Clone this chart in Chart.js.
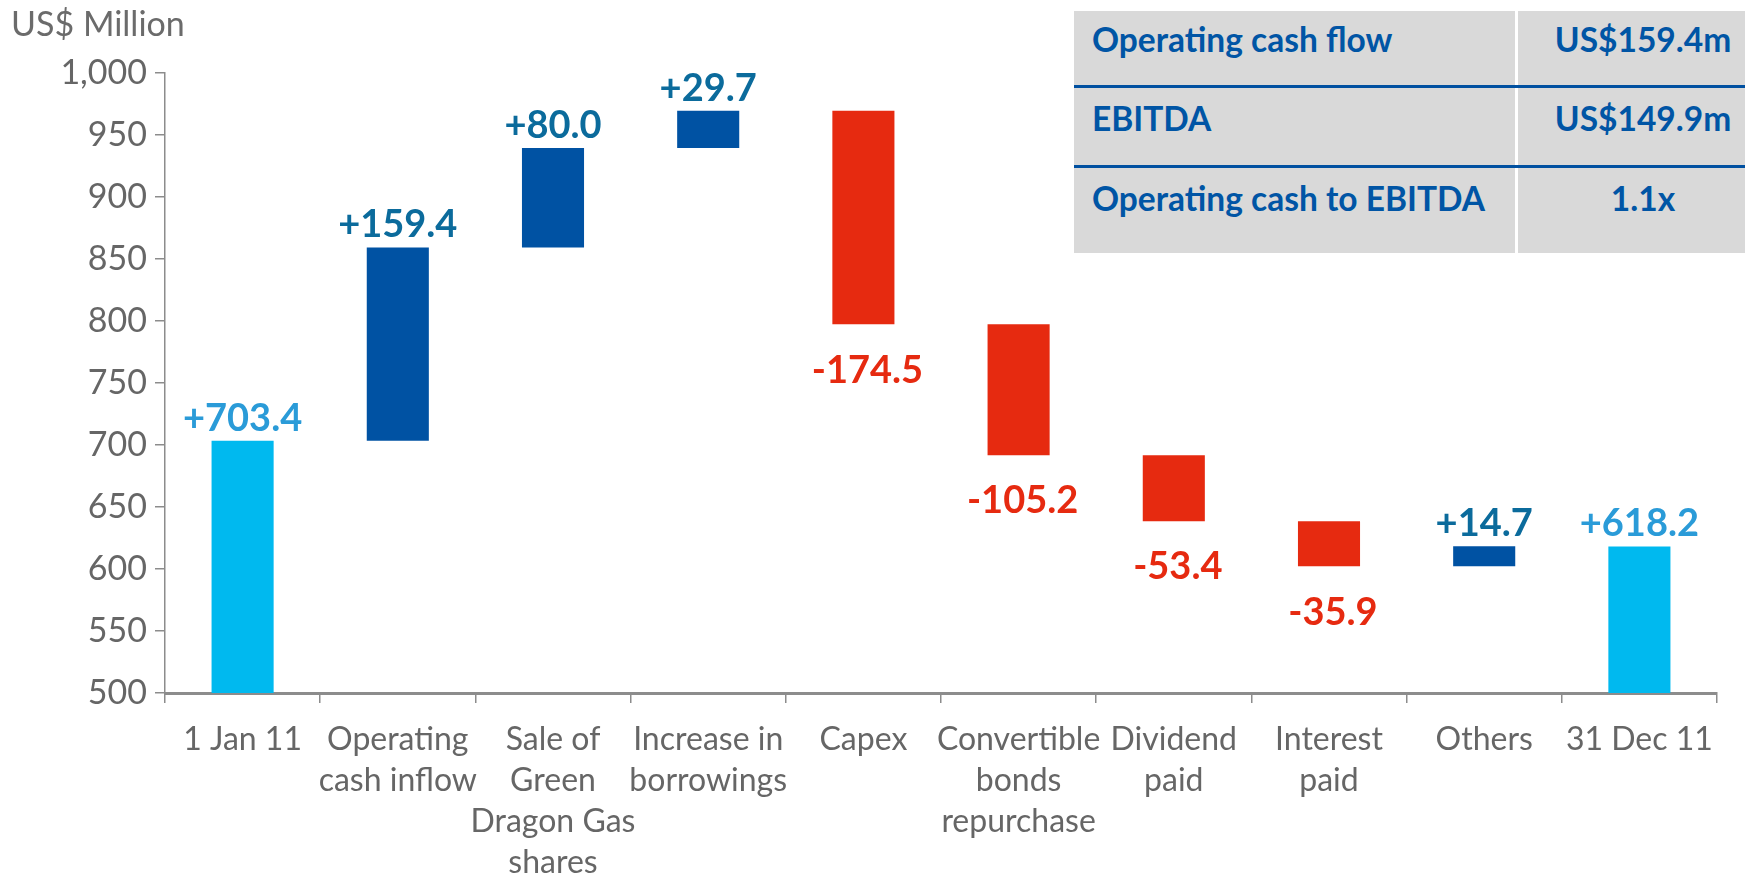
<!DOCTYPE html>
<html>
<head>
<meta charset="utf-8">
<script src="https://cdn.jsdelivr.net/npm/chart.js@4.4.1/dist/chart.umd.min.js"></script>
<style>
  html, body { margin: 0; padding: 0; background: #ffffff; }
  #wrap { position: relative; width: 1745px; height: 876px; overflow: hidden; }
  #c { position: absolute; left: 0; top: 0; }
  #unit { position: absolute; left: 11px; top: 2px; font-family: Lato, sans-serif; font-size: 34px; color: #6b6b6b; }
  #tbl { position: absolute; left: 1074px; top: 11px; width: 700px; height: 242px; background: #d9d9d9; font-family: Lato, sans-serif; font-weight: bold; font-size: 33.5px; color: #0055a5; }
  .row { position: absolute; left: 0; width: 700px; }
  .cell1 { position: absolute; left: 18px; }
  .cell2 { position: absolute; left: 442px; width: 254px; text-align: center; }
  .hline { position: absolute; left: 0; width: 700px; height: 3px; background: #0050a0; }
  .vline { position: absolute; left: 441px; top: 0; width: 3px; height: 242px; background: #ffffff; }
</style>
</head>
<body>
<div id="wrap">
  <canvas id="c" width="1745" height="876"></canvas>
  <div id="unit">US$ Million</div>
  <div id="tbl">
    <div class="vline"></div>
    <div class="row" style="top:8px;"><span class="cell1">Operating cash flow</span><span class="cell2">US$159.4m</span></div>
    <div class="hline" style="top:74px;"></div>
    <div class="row" style="top:87px;"><span class="cell1">EBITDA</span><span class="cell2">US$149.9m</span></div>
    <div class="hline" style="top:154px;"></div>
    <div class="row" style="top:167px;"><span class="cell1">Operating cash to EBITDA</span><span class="cell2">1.1x</span></div>
  </div>
</div>
<script>
// ---- data ----
const categories = [
  ["1 Jan 11"],
  ["Operating", "cash inflow"],
  ["Sale of", "Green", "Dragon Gas", "shares"],
  ["Increase in", "borrowings"],
  ["Capex"],
  ["Convertible", "bonds", "repurchase"],
  ["Dividend", "paid"],
  ["Interest", "paid"],
  ["Others"],
  ["31 Dec 11"]
];
// printed data labels
const labelValues = [703.4, 159.4, 80.0, 29.7, -174.5, -105.2, -53.4, -35.9, 14.7, 618.2];
const isTotal = [true, false, false, false, false, false, false, false, false, true];
// bar extents as drawn in the picture (US$ million)
const barLow  = [500, 703.4, 859.3, 939.5, 797.3, 691.8, 638.6, 602.2, 602.2, 500];
const barHigh = [703.4, 859.3, 939.5, 969.6, 969.6, 797.3, 691.8, 638.6, 618.3, 618.2];
const yTicks = [500, 550, 600, 650, 700, 750, 800, 850, 900, 950, 1000];
const axisMin = 500;
const axisMax = 1000;

const ranges = barLow.map((lo, i) => [lo, barHigh[i]]);

const COL_TOTAL = '#00b9ef', COL_UP = '#0052a3', COL_DOWN = '#e62a10';
const LBL_TOTAL = '#2a9bd8', LBL_UP = '#0b6b9c', LBL_DOWN = '#e62a10';
const barColors = labelValues.map((v, i) => isTotal[i] ? COL_TOTAL : (v >= 0 ? COL_UP : COL_DOWN));
const labelColors = labelValues.map((v, i) => isTotal[i] ? LBL_TOTAL : (v >= 0 ? LBL_UP : LBL_DOWN));
const labelText = labelValues.map(v => (v >= 0 ? '+' : '-') + Math.abs(v).toFixed(1));

const labelPlugin = {
  id: 'wfLabels',
  afterDatasetsDraw(chart) {
    const ctx = chart.ctx;
    const meta = chart.getDatasetMeta(0);
    const y = chart.scales.y;
    ctx.save();
    ctx.font = 'bold 38px Lato';
    ctx.textAlign = 'center';
    meta.data.forEach((bar, i) => {
      ctx.fillStyle = labelColors[i];
      if (labelValues[i] >= 0) {
        ctx.textBaseline = 'alphabetic';
        ctx.fillText(labelText[i], bar.x, y.getPixelForValue(barHigh[i]) - 10);
      } else {
        ctx.textBaseline = 'middle';
        ctx.fillText(labelText[i], bar.x + 4, y.getPixelForValue(barLow[i]) + 46);
      }
    });
    ctx.restore();
  }
};

new Chart(document.getElementById('c'), {
  type: 'bar',
  data: {
    labels: categories,
    datasets: [{
      data: ranges,
      backgroundColor: barColors,
      borderWidth: 0,
      borderSkipped: false,
      categoryPercentage: 1.0,
      barPercentage: 0.4
    }]
  },
  options: {
    responsive: false,
    animation: false,
    layout: { padding: { top: 73, right: 28, left: 0, bottom: 0 } },
    plugins: { legend: { display: false }, tooltip: { enabled: false } },
    scales: {
      x: {
        grid: { display: true, drawOnChartArea: false, drawTicks: true, tickLength: 10, color: '#8c8c8c', lineWidth: 1.5, offset: true },
        border: { display: true, color: '#8c8c8c', width: 3 },
        ticks: {
          autoSkip: false, maxRotation: 0, minRotation: 0,
          color: '#666666', padding: 16,
          font: { family: 'Lato', size: 32, lineHeight: 1.28 }
        },
        afterFit(scale) { scale.height = 183; }
      },
      y: {
        min: axisMin, max: axisMax,
        afterBuildTicks(scale) { scale.ticks = yTicks.map(v => ({ value: v })); },
        grid: { display: true, drawOnChartArea: false, drawTicks: true, tickLength: 10, color: '#8c8c8c', lineWidth: 1.5 },
        border: { display: true, color: '#8c8c8c', width: 1.5 },
        ticks: {
          color: '#666666', padding: 8,
          font: { family: 'Lato', size: 34 },
          callback: v => v.toLocaleString('en-US')
        },
        afterFit(scale) { scale.width = 165; }
      }
    }
  },
  plugins: [labelPlugin]
});
</script>
</body>
</html>
